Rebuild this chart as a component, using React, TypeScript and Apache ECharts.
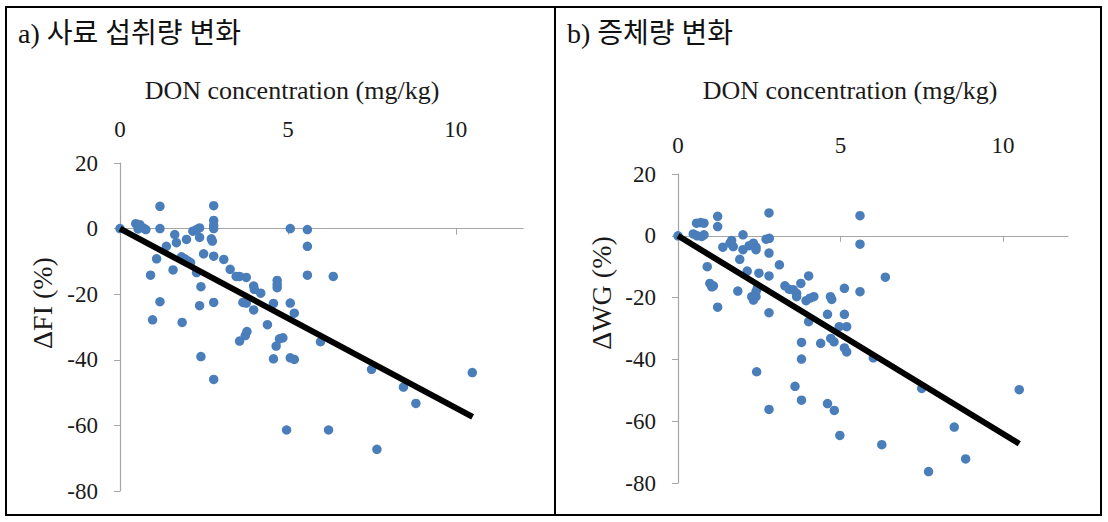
import { useEffect, useRef } from "react";
import * as echarts from "echarts";

const xTickValues = [0, 5, 10];
const xMin = 0;
const xMax = 12;
const yMin = -80;
const yMax = 20;
const yStep = 20;

const panelTitles = ["a) 사료 섭취량 변화", "b) 증체량 변화"];
const xAxisTitle = "DON concentration (mg/kg)";
const yAxisTitles = ["ΔFI (%)", "ΔWG (%)"];

// a) feed intake change (%) vs DON (mg/kg)
const fiPoints: [number, number][] = [
  [0, 0], [0.47, 1.5], [0.59, 1.2], [0.69, 0.2], [0.77, -0.3], [0.54, -0.1],
  [1.19, 6.8], [1.19, 0], [2.79, 7.0], [2.79, 2.5], [2.79, 1.0], [2.79, 0],
  [5.07, 0], [5.58, -0.3], [5.58, -5.4], [5.58, -14.2], [6.35, -14.6],
  [1.63, -1.8], [1.68, -4.3], [1.38, -5.4], [1.98, -3.3], [2.17, -0.8],
  [2.28, -0.3], [2.37, 0.2], [2.37, -2.7], [2.72, -3.1], [2.75, -3.8],
  [1.09, -9.2], [0.91, -14.2], [1.58, -12.6], [1.83, -8.6], [1.93, -9.2],
  [2.03, -9.9], [2.1, -10.4], [2.28, -13.4], [2.49, -7.7], [2.79, -8.4],
  [3.09, -9.4], [3.28, -12.4], [3.46, -14.6], [3.56, -14.6], [3.76, -14.9],
  [3.98, -17.5], [4.0, -18.5], [4.68, -15.8], [4.68, -17.0], [4.68, -18.0],
  [4.19, -19.7], [2.41, -17.7], [1.19, -22.3], [2.37, -23.5], [2.79, -22.5],
  [3.66, -22.5], [3.76, -22.7], [3.98, -24.8], [4.57, -22.8], [5.07, -22.7],
  [5.19, -25.8], [0.97, -27.8], [1.85, -28.6], [4.39, -29.3], [3.56, -34.3],
  [3.73, -32.6], [3.78, -31.4], [4.75, -33.6], [4.85, -33.3], [5.97, -34.5],
  [4.65, -35.8], [2.41, -39.0], [4.57, -39.7], [5.07, -39.4], [5.19, -39.9],
  [2.79, -46.0], [7.49, -42.9], [8.44, -48.3], [8.81, -53.3], [10.49, -43.9],
  [4.96, -61.4], [6.21, -61.4], [7.65, -67.3],
];

// b) weight gain change (%) vs DON (mg/kg)
const wgPoints: [number, number][] = [
  [0, 0], [0.57, 4.1], [0.7, 4.3], [0.8, 4.1], [0.47, 0.6], [0.59, 0],
  [0.73, -0.2], [0.8, 0.3], [1.22, 6.3], [1.22, 3.0], [2.8, 7.4], [5.6, 6.5],
  [5.6, -2.7], [2.0, 0.3], [1.65, -1.5], [1.6, -2.4], [1.7, -3.5], [1.38, -3.7],
  [2.0, -4.5], [1.9, -7.6], [2.19, -3.2], [2.32, -2.4], [2.4, -3.7], [2.4, -4.5],
  [2.71, -1.1], [2.81, -0.8], [2.8, -5.6], [0.9, -10], [3.12, -9.4],
  [2.13, -11.4], [2.49, -12.1], [2.8, -13], [4.02, -13], [6.38, -13.4],
  [0.98, -15.4], [1.04, -16.5], [1.09, -16.2], [1.84, -17.9], [2.27, -19.7],
  [2.4, -19.7], [2.4, -18.1], [2.44, -17], [1.22, -23.1], [2.8, -24.9],
  [3.29, -16.2], [3.42, -17.3], [3.55, -17.5], [3.65, -18.6], [3.65, -19.7],
  [3.78, -15.4], [3.94, -21], [4.06, -20.2], [4.18, -19.7], [4.69, -19.7],
  [4.73, -20.6], [5.12, -17], [5.6, -18.1], [4.02, -27.8], [4.6, -25.4],
  [5.12, -25.4], [4.96, -29.4], [5.19, -29.4], [3.8, -34.5], [4.39, -34.8],
  [4.7, -33.2], [4.8, -34.3], [5.12, -36.3], [5.19, -37.6], [2.32, -20.8],
  [6.01, -39.5], [3.8, -39.9], [2.42, -44], [3.6, -48.7], [3.8, -53.2],
  [2.8, -56.2], [4.6, -54.3], [4.81, -56.5], [4.98, -64.6], [6.27, -67.6],
  [7.5, -49.4], [8.5, -61.9], [8.85, -72.2], [7.71, -76.3], [10.5, -49.8],
];

const fiTrend: [number, number][] = [[0, 0], [10.5, -57.4]];
const wgTrend: [number, number][] = [[0, 0], [10.5, -67.3]];

const SERIF = "Liberation Serif";
const KR = "Liberation Serif, Noto Sans CJK KR";
const AXIS_GREY = "#a6a6a6";
const DOT = "#4a7ebb";

export default function App() {
  const ref = useRef<HTMLDivElement>(null);

  useEffect(() => {
    if (!ref.current) return;
    const chart = echarts.init(ref.current, undefined, { renderer: "svg" });

    const grids = [
      { left: 120, top: 163, width: 403, height: 328 },
      { left: 678, top: 174, width: 390, height: 309 },
    ];
    const labelMargins = [22, 17];

    const xAxes: any[] = [];
    const yAxes: any[] = [];
    grids.forEach((_, i) => {
      // top labels
      xAxes.push({
        type: "value",
        gridIndex: i,
        position: "top",
        min: xMin,
        max: xMax,
        interval: 5,
        axisLine: { show: false, onZero: false },
        axisTick: { show: false },
        splitLine: { show: false },
        axisLabel: {
          show: true,
          customValues: xTickValues,
          margin: labelMargins[i],
          fontFamily: SERIF,
          fontSize: 23,
          color: "#1a1a1a",
          formatter: (v: number) => (xTickValues.includes(v) ? String(v) : ""),
        },
      });
      // zero line with ticks
      xAxes.push({
        type: "value",
        gridIndex: i,
        position: "bottom",
        min: xMin,
        max: xMax,
        interval: 5,
        axisLine: { show: true, onZero: true, lineStyle: { color: AXIS_GREY, width: 1.2 } },
        axisTick: {
          show: true,
          customValues: xTickValues.filter((v) => v !== 0),
          length: 6,
          lineStyle: { color: AXIS_GREY },
        },
        splitLine: { show: false },
        axisLabel: { show: false },
      });
      yAxes.push({
        type: "value",
        gridIndex: i,
        min: yMin,
        max: yMax,
        interval: yStep,
        axisLine: { show: true, onZero: false, lineStyle: { color: AXIS_GREY, width: 1.2 } },
        axisTick: { show: true, length: 6, lineStyle: { color: AXIS_GREY } },
        splitLine: { show: false },
        axisLabel: {
          margin: 22,
          fontFamily: SERIF,
          fontSize: 23,
          color: "#1a1a1a",
        },
      });
    });

    const scatter = (data: [number, number][], i: number) => ({
      type: "scatter",
      xAxisIndex: i * 2,
      yAxisIndex: i,
      data,
      symbol: "circle",
      symbolSize: 9.5,
      itemStyle: { color: DOT, opacity: 1 },
      z: 2,
    });
    const trend = (data: [number, number][], i: number) => ({
      type: "line",
      xAxisIndex: i * 2,
      yAxisIndex: i,
      data,
      symbol: "none",
      lineStyle: { color: "#000", width: 6 },
      z: 3,
      silent: true,
    });

    chart.setOption({
      animation: false,
      backgroundColor: "#fff",
      grid: grids,
      xAxis: xAxes,
      yAxis: yAxes,
      series: [
        scatter(fiPoints, 0),
        trend(fiTrend, 0),
        scatter(wgPoints, 1),
        trend(wgTrend, 1),
      ],
      graphic: [
        {
          type: "rect",
          shape: { x: 6, y: 7, width: 1095, height: 508 },
          style: { fill: "none", stroke: "#000", lineWidth: 2 },
        },
        {
          type: "line",
          shape: { x1: 555, y1: 7, x2: 555, y2: 515 },
          style: { stroke: "#000", lineWidth: 2 },
        },
        {
          type: "text",
          x: 18,
          y: 33,
          style: { text: panelTitles[0], fontFamily: KR, fontSize: 28, fill: "#111", verticalAlign: "middle" },
        },
        {
          type: "text",
          x: 567,
          y: 33,
          style: { text: panelTitles[1], fontFamily: KR, fontSize: 28, fill: "#111", verticalAlign: "middle" },
        },
        {
          type: "text",
          x: 292,
          y: 90,
          style: { text: xAxisTitle, fontFamily: SERIF, fontSize: 26, fill: "#1a1a1a", align: "center", verticalAlign: "middle" },
        },
        {
          type: "text",
          x: 850,
          y: 90,
          style: { text: xAxisTitle, fontFamily: SERIF, fontSize: 26, fill: "#1a1a1a", align: "center", verticalAlign: "middle" },
        },
        {
          type: "text",
          x: 42,
          y: 303,
          rotation: Math.PI / 2,
          style: { text: yAxisTitles[0], fontFamily: SERIF, fontSize: 28, fill: "#1a1a1a", align: "center", verticalAlign: "middle" },
        },
        {
          type: "text",
          x: 601,
          y: 293,
          rotation: Math.PI / 2,
          style: { text: yAxisTitles[1], fontFamily: SERIF, fontSize: 28, fill: "#1a1a1a", align: "center", verticalAlign: "middle" },
        },
      ],
    });

    return () => chart.dispose();
  }, []);

  return (
    <div
      ref={ref}
      style={{ position: "fixed", left: 0, top: 0, width: 1108, height: 522, background: "#fff" }}
    />
  );
}
